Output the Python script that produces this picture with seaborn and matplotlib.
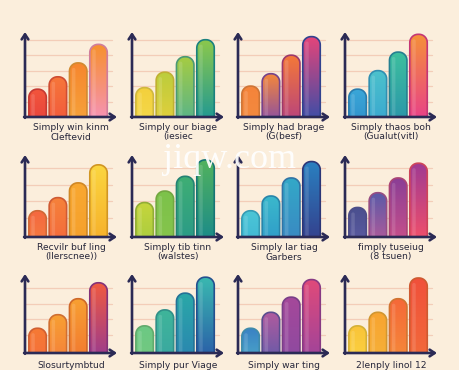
import numpy as np
import pandas as pd
import seaborn as sns
import matplotlib.pyplot as plt
from matplotlib.patches import Polygon
from matplotlib.colors import LinearSegmentedColormap, to_rgb

# --- data (4 bars per small chart) ---
titles = [
    "Simply win kinm\nCleftevid", "Simply our biage\n(iesiec",
    "Simply had brage\n(G(besf)", "Simply thaos boh\n(Gualut(vitl)",
    "Recvilr buf ling\n(llerscnee))", "Simply tib tinn\n(walstes)",
    "Simply lar tiag\nGarbers", "fimply tuseiug\n(8 tsuen)",
    "Slosurtymbtud", "Simply pur Viage", "Simply war ting", "2lenply linol 12",
]
bars = ["a", "b", "c", "d"]
values = [
    [1.8, 2.6, 3.5, 4.7], [1.9, 2.9, 3.9, 5.0], [2.0, 2.8, 4.0, 5.2], [1.8, 3.0, 4.2, 5.35],
    [1.6, 2.4, 3.3, 4.4], [2.1, 2.8, 3.7, 4.7], [1.6, 2.5, 3.6, 4.6], [1.8, 2.7, 3.6, 4.5],
    [1.55, 2.4, 3.4, 4.4], [1.7, 2.7, 3.75, 4.75], [1.55, 2.55, 3.5, 4.6], [1.7, 2.55, 3.4, 4.7],
]
# gradient colours per bar: (top, bottom)
colors = [
    [("#f2553c", "#e8443c"), ("#f6773a", "#f25a3c"), ("#f7862e", "#f6a23a"), ("#f7902e", "#f593b8")],
    [("#f4d03c", "#f3d84a"), ("#bccd3c", "#e2cf3c"), ("#a6cc42", "#58b48a"), ("#8cc84c", "#1f9894")],
    [("#f5843a", "#f28a40"), ("#f5883a", "#8c4fa2"), ("#f47838", "#b8437e"), ("#e4457a", "#3a4ea8")],
    [("#3aa7d8", "#3192cc"), ("#4cc2cc", "#3aa8d0"), ("#3dbf9e", "#2b96aa"), ("#f5903a", "#e8408a")],
    [("#f4683f", "#f57a40"), ("#f6823a", "#f46a3c"), ("#f9a830", "#f5a02c"), ("#fbd640", "#f6b02a")],
    [("#c6d63c", "#aacc40"), ("#7cc24a", "#86c44c"), ("#3fae74", "#2a9a88"), ("#52b25e", "#1a8a8a")],
    [("#4cc6d6", "#40b8d4"), ("#3bb8cc", "#2f9cc8"), ("#33a9c8", "#3a88c2"), ("#2a80c0", "#343f8c")],
    [("#4a4f8e", "#5a5aa0"), ("#5a5aa8", "#b05a9a"), ("#8a3e96", "#c8508a"), ("#a03a92", "#f2506a")],
    [("#f57a34", "#f5703a"), ("#f8a032", "#f5833a"), ("#f8a032", "#f27a30"), ("#f05a40", "#9b3b8e")],
    [("#6cc884", "#72c880"), ("#3fb59a", "#3aa8a0"), ("#2aa8a8", "#2a86b0"), ("#3ab8b0", "#2a5ea8")],
    [("#3a82c4", "#4aa3c8"), ("#b05a9e", "#6a5aa8"), ("#a5489a", "#8e4aa0"), ("#e04a7a", "#a0449a")],
    [("#f9c438", "#fbd040"), ("#f8a430", "#f6b038"), ("#f56838", "#f5883a"), ("#f0503a", "#f26a3a")],
]

bg = "#fbeedc"
axis_col = "#2b2a55"
grid_col = "#f3cdb8"

sns.set_theme(style="white")
plt.rcParams["font.family"] = ["DejaVu Sans"]

W, H = 460, 370
fig = plt.figure(figsize=(W / 100, H / 100), dpi=100, facecolor=bg)

col_x = [25, 132, 238, 345]          # y-axis position (px)
row_y = [117, 237, 353]              # x-axis position (px)
row_h = [85, 82, 79]
row_top = [5.5, 5.0, 4.95]
row_grid = [[1, 2, 3, 4, 5], [1.15, 2.2, 3.2, 4.2], [1.1, 2.1, 3.1, 4.1]]
label_y = [[127, 137], [247, 257], [365]]
ax_w = 92
x_lo, x_hi = -0.62, 3.91


def darker(c, f=0.8):
    r, g, b = to_rgb(c)
    return (r * f, g * f, b * f)


def rounded_top(bx, bw, bh, rx, ry, base):
    # outline of a bar with round top corners (quarter ellipses)
    t = np.linspace(0, np.pi / 2, 12)
    left = np.column_stack([bx + rx - rx * np.cos(t), bh - ry + ry * np.sin(t)])
    right = np.column_stack([bx + bw - rx + rx * np.sin(t), bh - ry + ry * np.cos(t)])
    return np.vstack([[bx, base], left, right, [bx + bw, base]])


for i, title in enumerate(titles):
    r, c = divmod(i, 4)
    x0, y0, h = col_x[c], row_y[r], row_h[r]
    ax = fig.add_axes([x0 / W, 1 - y0 / H, ax_w / W, h / H])
    ax.set_facecolor("none")
    df = pd.DataFrame({"bar": bars, "value": values[i]})
    sns.barplot(data=df, x="bar", y="value", ax=ax, width=0.86, color="#cccccc")

    ax.set_axis_off()
    for g in row_grid[r]:
        ax.axhline(g, xmin=0.0, xmax=0.95, color=grid_col, lw=0.9, zorder=0)

    # y data-units per x data-unit at equal pixel size
    aspect = (row_top[r] / h) / ((x_hi - x_lo) / ax_w)
    for k, p in enumerate(list(ax.patches)):
        bx, bw, bh = p.get_x(), p.get_width(), p.get_height()
        p.set_visible(False)
        top, bot = colors[i][k]
        rx = bw * 0.47
        ry = rx * aspect
        base = -0.3
        shape = Polygon(rounded_top(bx, bw, bh, rx, ry, base), closed=True,
                        facecolor="none", edgecolor=darker(bot, 0.85),
                        lw=1.2, zorder=4, joinstyle="round")
        ax.add_patch(shape)
        cmap = LinearSegmentedColormap.from_list("g", [bot, top])
        grad = np.linspace(0, 1, 64).reshape(-1, 1)
        im = ax.imshow(grad, extent=[bx, bx + bw, base, bh], origin="lower",
                       aspect="auto", cmap=cmap, zorder=3, interpolation="bilinear")
        im.set_clip_path(shape)
        # soft highlight on left side
        hl = Polygon(rounded_top(bx + bw * 0.14, bw * 0.2, bh - ry * 0.6, bw * 0.1,
                                 bw * 0.1 * aspect, 0),
                     closed=True, facecolor="white", edgecolor="none",
                     alpha=0.13, zorder=3.5)
        ax.add_patch(hl)

    ax.set_xlim(x_lo, x_hi)
    ax.set_ylim(0, row_top[r])

    arrow = dict(arrowstyle="->,head_length=0.3,head_width=0.2", color=axis_col,
                 lw=1.9, shrinkA=0, shrinkB=0)
    ax.annotate("", xy=(0, 1.0), xytext=(0, -0.01), xycoords="axes fraction",
                arrowprops=arrow, annotation_clip=False, zorder=6)
    ax.annotate("", xy=(1.0, 0), xytext=(-0.01, 0), xycoords="axes fraction",
                arrowprops=arrow, annotation_clip=False, zorder=6)

    cx = (x0 + ax_w / 2) / W
    for line, ly in zip(title.split("\n"), label_y[r]):
        fig.text(cx, 1 - ly / H, line, ha="center", va="center",
                 fontsize=6.6, color="#26263a")

# watermark
fig.text(230 / W, 1 - 159 / H, "jiqw.com", ha="center", va="center",
         fontsize=26, color="white", alpha=0.93,
         family=["Liberation Serif", "DejaVu Serif"], zorder=10)

fig.savefig("out.png", dpi=100, facecolor=bg)
